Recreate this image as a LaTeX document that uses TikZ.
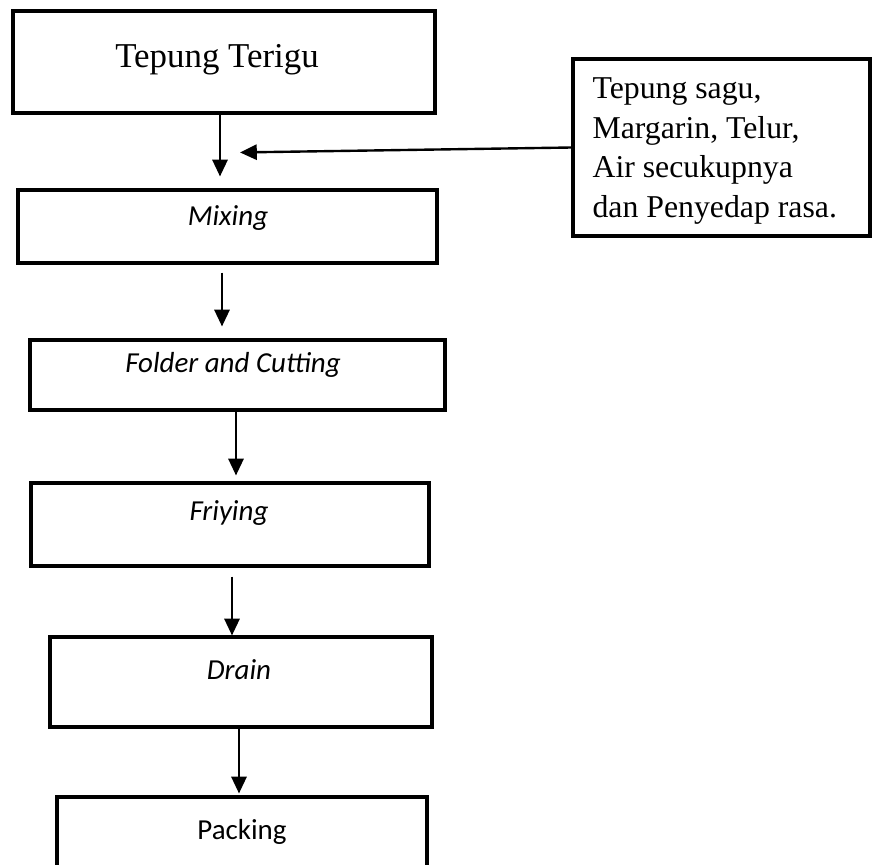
\documentclass[tikz,border=0pt]{standalone}
\usepackage{fontspec}
\setmainfont{Liberation Serif}
\newfontfamily\calibri{Carlito}
\usetikzlibrary{arrows.meta}

\def\px{0.0125cm} % one pixel of the reference

\tikzset{
  box/.style={draw, line width=1.1pt, inner sep=0pt},
  proc/.style={font=\calibri\itshape\fontsize{10.3}{12}\selectfont, inner sep=0pt},
  arr/.style={line width=0.85pt, -{Triangle[length=0.21cm,width=0.19cm]}}
}

\begin{document}
\begin{tikzpicture}[x=\px, y=-\px]
\useasboundingbox (0,0) rectangle (872,865);

% kotak proses
\node[box, minimum width=422*\px, minimum height=102*\px] (tepung) at (224,62) {};
\node[font=\fontsize{12.4}{14}\selectfont, inner sep=0pt] (tepungtxt) at (217,60) {Tepung Terigu};

\node[box, minimum width=419*\px, minimum height=73*\px] (mixing) at (227.5,226.5) {};
\node[proc] (mixingtxt) at (228,218) {Mixing};

\node[box, minimum width=415*\px, minimum height=70*\px] (folder) at (237.5,375) {};
\node[proc] (foldertxt) at (233,365) {Folder and Cutting};

\node[box, minimum width=398*\px, minimum height=83*\px] (friying) at (230,524.5) {};
\node[proc] (friyingtxt) at (229,513) {Friying};

\node[box, minimum width=382*\px, minimum height=90*\px] (drain) at (241,682) {};
\node[proc] (draintxt) at (239,670) {Drain};

\node[box, minimum width=370*\px, minimum height=83*\px] (packing) at (242,838.5) {};
\node[proc, font=\calibri\fontsize{10.3}{12}\selectfont] (packingtxt) at (242,832) {Packing};

% bahan tambahan
\node[box, minimum width=297*\px, minimum height=177*\px] (bahan) at (721.5,147.5) {};
\node[anchor=west, align=left, inner sep=0pt, font=\fontsize{11.3}{14.2}\selectfont]
  (bahantxt) at (592,151) {Tepung sagu,\\Margarin, Telur,\\Air secukupnya\\dan Penyedap rasa.};

% panah
\draw[arr] ([xshift=-4*\px]tepung.south) -- ([xshift=-7.5*\px, yshift=12*\px]mixing.north);
\draw[arr] (bahan.west) -- ([xshift=12.5*\px, yshift=36*\px]mixing.north);
\draw[arr] ([xshift=-5.5*\px, yshift=-8*\px]mixing.south) -- ([xshift=-15.5*\px, yshift=12*\px]folder.north);
\draw[arr] ([xshift=-1.5*\px]folder.south) -- ([xshift=6*\px, yshift=6*\px]friying.north);
\draw[arr] ([xshift=2*\px, yshift=-9*\px]friying.south) -- ([xshift=-9*\px]drain.north);
\draw[arr] ([xshift=-2*\px]drain.south) -- ([xshift=-3*\px, yshift=2*\px]packing.north);

\end{tikzpicture}
\end{document}
